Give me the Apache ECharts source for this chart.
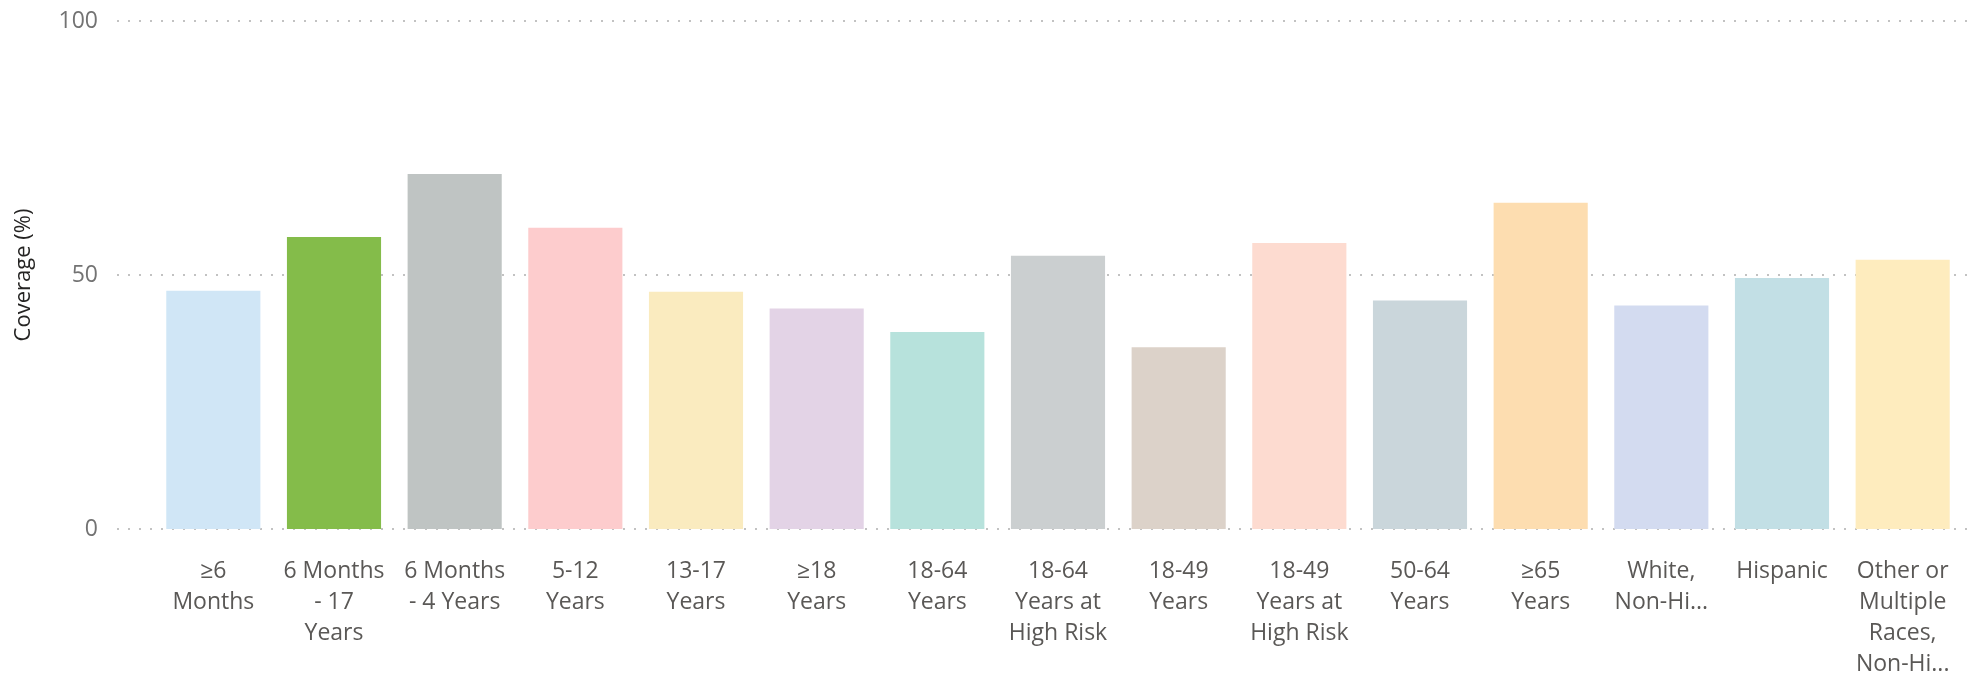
<!DOCTYPE html>
<html>
<head>
<meta charset="utf-8">
<script src="https://cdn.jsdelivr.net/npm/echarts@6/dist/echarts.min.js"></script>
<style>
html,body{margin:0;padding:0;background:#fff;}
#chart{width:1973px;height:681px;}
</style>
</head>
<body>
<div id="chart"></div>
<script>
const categories = ["≥6 Months","6 Months - 17 Years","6 Months - 4 Years","5-12 Years","13-17 Years","≥18 Years","18-64 Years","18-64 Years at High Risk","18-49 Years","18-49 Years at High Risk","50-64 Years","≥65 Years","White, Non-Hispanic","Hispanic","Other or Multiple Races, Non-Hispanic"];
const tickLabels = ["≥6\nMonths","6 Months\n- 17\nYears","6 Months\n- 4 Years","5-12\nYears","13-17\nYears","≥18\nYears","18-64\nYears","18-64\nYears at\nHigh Risk","18-49\nYears","18-49\nYears at\nHigh Risk","50-64\nYears","≥65\nYears","White,\nNon-Hi...","Hispanic","Other or\nMultiple\nRaces,\nNon-Hi..."];
const coverage = [46.9, 57.5, 69.9, 59.3, 46.7, 43.4, 38.8, 53.8, 35.8, 56.3, 45.0, 64.2, 44.0, 49.4, 53.0];
const yTicks = [0, 50, 100];
const barColors = ["#D0E6F6","#84BC4A","#BFC4C3","#FDCCCD","#FAEBBF","#E3D3E6","#B7E2DC","#CBCFD0","#DCD2C9","#FDDBD0","#CAD6DB","#FDDDB0","#D3DBF0","#C2DFE5","#FEECBE"];

const FONT = '"Segoe UI", "Open Sans", "Noto Sans", sans-serif';
const chart = echarts.init(document.getElementById('chart'), null, {renderer:'canvas'});
chart.setOption({
  animation: false,
  grid: [
    {left: 117, right: 3, top: 21, bottom: 152},
    {left: 153, right: 10, top: 21, bottom: 152}
  ],
  xAxis: [
    {gridIndex: 0, type: 'value', show: false, min: 0, max: 1},
    {gridIndex: 1, type: 'category', data: categories,
     axisLine: {show: false}, axisTick: {show: false},
     axisLabel: {interval: 0, margin: 27, fontFamily: FONT, fontSize: 23, lineHeight: 31, color: '#5A5856',
       formatter: function(v, i){ return tickLabels[i]; }}}
  ],
  yAxis: [
    {gridIndex: 0, type: 'value', min: yTicks[0], max: yTicks[yTicks.length-1], interval: 50,
     name: 'Coverage (%)', nameLocation: 'middle', nameRotate: 90, nameGap: 82,
     nameTextStyle: {fontFamily: FONT, fontSize: 22, color: '#252423'},
     axisLine: {show: false}, axisTick: {show: false},
     axisLabel: {margin: 19, fontFamily: FONT, fontSize: 23, color: '#737373'},
     splitLine: {show: true, lineStyle: {color: '#C2C2C2', width: 2, type: [2, 9]}}},
    {gridIndex: 1, type: 'value', min: 0, max: 100, interval: 50, show: false, splitLine: {show: false}}
  ],
  series: [{
    type: 'bar', xAxisIndex: 1, yAxisIndex: 1,
    barCategoryGap: '22%',
    data: coverage.map((v, i) => ({value: v, itemStyle: {color: barColors[i]}}))
  }]
});
</script>
</body>
</html>
